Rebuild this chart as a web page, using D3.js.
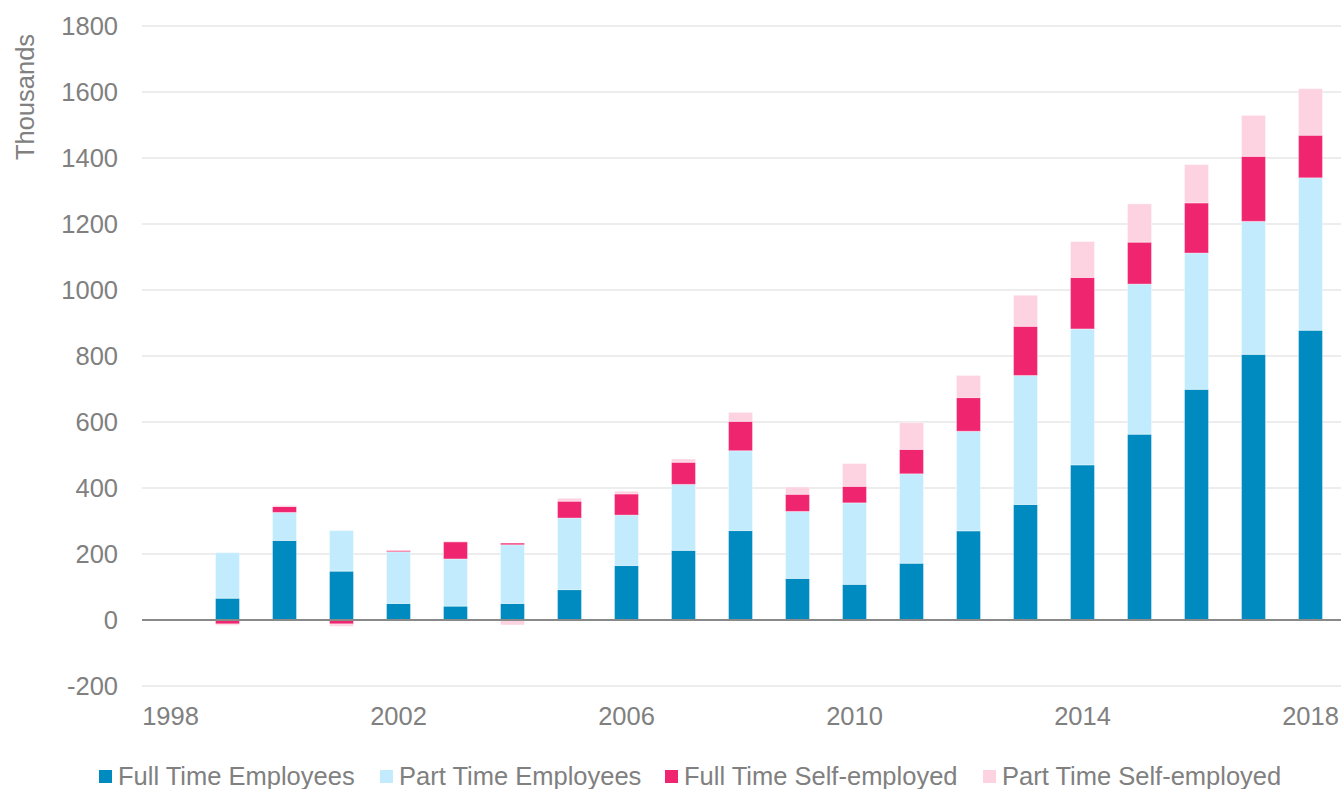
<!DOCTYPE html>
<html>
<head>
<meta charset="utf-8">
<script src="https://cdn.jsdelivr.net/npm/d3@7"></script>
<style>
  body { margin: 0; background: #fff; }
  text { font-family: "Liberation Sans", Arial, sans-serif; }
</style>
</head>
<body>
<div id="chart"></div>
<script>
// categories (1998 is an empty slot on the axis)
const years = [1998, 1999, 2000, 2001, 2002, 2003, 2004, 2005, 2006, 2007, 2008,
  2009, 2010, 2011, 2012, 2013, 2014, 2015, 2016, 2017, 2018];
const tickYears = [1998, 2002, 2006, 2010, 2014, 2018];
const yTicks = [-200, 0, 200, 400, 600, 800, 1000, 1200, 1400, 1600, 1800];

// series values, thousands
const fullTimeEmployees = [null, 66, 241, 148, 50, 42, 50, 92, 165, 211, 271,
  126, 108, 172, 270, 350, 470, 563, 699, 805, 878];
const partTimeEmployees = [null, 138, 85, 123, 157, 143, 178, 217, 153, 200, 242,
  203, 247, 271, 302, 391, 412, 455, 413, 403, 462];
const fullTimeSelfEmployed = [null, -12, 18, -12, 4, 52, 5, 51, 64, 67, 89,
  52, 50, 74, 102, 149, 156, 127, 152, 197, 129];
const partTimeSelfEmployed = [null, -4, 3, -7, 1, 2, -15, 9, 8, 10, 27,
  22, 69, 81, 67, 94, 109, 116, 116, 124, 141];

const seriesNames = ["Full Time Employees", "Part Time Employees",
  "Full Time Self-employed", "Part Time Self-employed"];
const colors = ["#008bc0", "#c2ecfd", "#f0256f", "#fdd3e2"];

const width = 1341, height = 789;
const margin = { left: 142, right: 2, top: 26, bottom: 103 };

const rows = years.map((yr, i) => ({
  year: yr,
  [seriesNames[0]]: fullTimeEmployees[i],
  [seriesNames[1]]: partTimeEmployees[i],
  [seriesNames[2]]: fullTimeSelfEmployed[i],
  [seriesNames[3]]: partTimeSelfEmployed[i],
}));

const svg = d3.select("#chart")
  .append("svg")
  .attr("width", width)
  .attr("height", height);

const x = d3.scaleBand()
  .domain(years)
  .range([margin.left, width - margin.right])
  .paddingInner(0.58)
  .paddingOuter(0.29);

const y = d3.scaleLinear()
  .domain([-200, 1800])
  .range([height - margin.bottom, margin.top]);

// gridlines
svg.append("g")
  .selectAll("line")
  .data(yTicks.filter(d => d !== 0))
  .join("line")
  .attr("x1", margin.left)
  .attr("x2", width)
  .attr("y1", d => y(d))
  .attr("y2", d => y(d))
  .attr("stroke", "#ededed")
  .attr("stroke-width", 2);

// y tick labels
svg.append("g")
  .selectAll("text")
  .data(yTicks)
  .join("text")
  .attr("x", 118)
  .attr("y", d => y(d))
  .attr("dy", "0.35em")
  .attr("text-anchor", "end")
  .attr("font-size", 25.5)
  .attr("fill", "#808080")
  .text(d => d);

// y title
svg.append("text")
  .attr("transform", "translate(34,97) rotate(-90)")
  .attr("text-anchor", "middle")
  .attr("font-size", 25.5)
  .attr("fill", "#808080")
  .text("Thousands");

// stacked bars, negatives go below zero
const stack = d3.stack()
  .keys(seriesNames)
  .value((d, k) => d[k] || 0)
  .offset(d3.stackOffsetDiverging);
const layers = stack(rows.filter(d => d[seriesNames[0]] !== null));

svg.append("g")
  .selectAll("g")
  .data(layers)
  .join("g")
  .attr("fill", (d, i) => colors[i])
  .selectAll("rect")
  .data(d => d.filter(p => p[1] !== p[0]))
  .join("rect")
  .attr("x", d => x(d.data.year))
  .attr("width", x.bandwidth())
  .attr("y", d => y(Math.max(d[0], d[1])))
  .attr("height", d => Math.abs(y(d[0]) - y(d[1])))
  .attr("stroke", "#ffffff")
  .attr("stroke-opacity", 0.35)
  .attr("stroke-width", 1);

// zero axis line
svg.append("line")
  .attr("x1", margin.left)
  .attr("x2", width)
  .attr("y1", y(0))
  .attr("y2", y(0))
  .attr("stroke", "#898989")
  .attr("stroke-width", 2);

// x labels
svg.append("g")
  .selectAll("text")
  .data(tickYears)
  .join("text")
  .attr("x", d => x(d) + x.bandwidth() / 2)
  .attr("y", 725)
  .attr("text-anchor", "middle")
  .attr("font-size", 25.5)
  .attr("fill", "#808080")
  .text(d => d);

// legend
const legendX = [99, 380, 665, 983];
const legend = svg.append("g")
  .selectAll("g")
  .data(seriesNames)
  .join("g")
  .attr("transform", (d, i) => `translate(${legendX[i]},0)`);
legend.append("rect")
  .attr("y", 770)
  .attr("width", 13)
  .attr("height", 13)
  .attr("fill", (d, i) => colors[i]);
legend.append("text")
  .attr("x", 19)
  .attr("y", 785)
  .attr("font-size", 25.5)
  .attr("fill", "#808080")
  .text(d => d);
</script>
</body>
</html>
